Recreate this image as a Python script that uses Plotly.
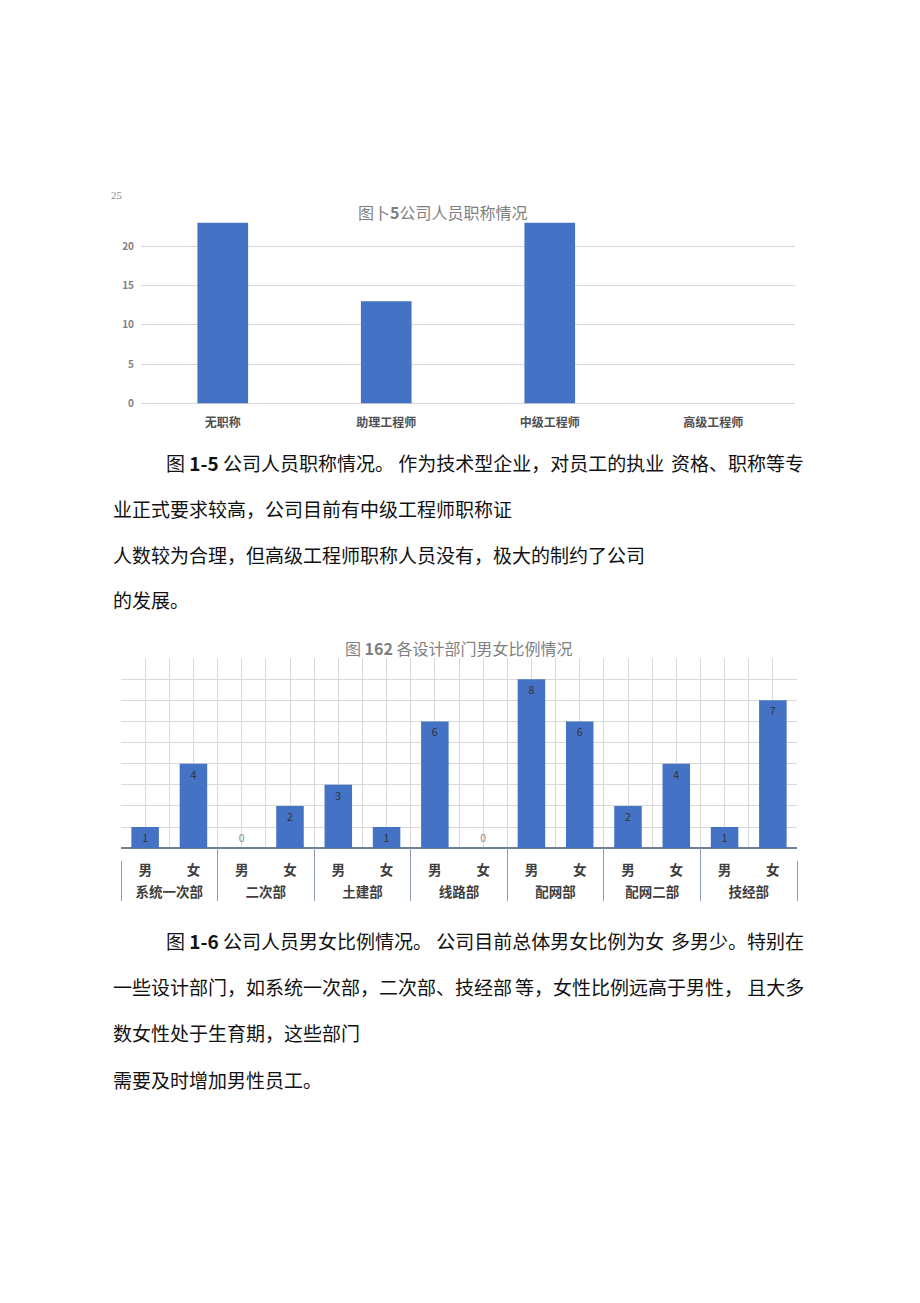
import plotly.graph_objects as go

# ---------------- data ----------------
title_categories = ['无职称', '助理工程师', '中级工程师', '高级工程师']
title_counts = [23, 13, 23, 0]
y1_tick_values = [0, 5, 10, 15, 20, 25]

departments = ['系统一次部', '二次部', '土建部', '线路部', '配网部', '配网二部', '技经部']
genders = ['男', '女']
male_counts = [1, 0, 3, 6, 8, 2, 1]
female_counts = [4, 2, 1, 0, 6, 4, 7]

chart1_title = '图卜<b>5</b>公司人员职称情况'
chart2_title = '图 <b>162</b> 各设计部门男女比例情况'

para1 = [
    ('图 <b>1-5</b> 公司人员职称情况。 作为技术型企业，对员工的执业', '资格、职称等专'),
    ('业正式要求较高，公司目前有中级工程师职称证', None),
    ('人数较为合理，但高级工程师职称人员没有，极大的制约了公司', None),
    ('的发展。', None),
]
para2 = [
    ('图 <b>1-6</b> 公司人员男女比例情况。 公司目前总体男女比例为女', '多男少。特别在'),
    ('一些设计部门，如系统一次部，二次部、技经部', '等，女性比例远高于男性， 且大多'),
    ('数女性处于生育期，这些部门', None),
    ('需要及时增加男性员工。', None),
]

W, H = 920, 1303
FONT = 'Noto Sans CJK SC'
BAR = '#4472C4'
GRID = '#d9d9d9'
AXIS_BLUE = '#6f7f99'
DIVIDER = '#8e9bb0'


def px_x(x):
    return x / W


def px_y(y):
    return 1 - y / H


# chart 2 geometry (pixels)
C2_LEFT, C2_RIGHT = 121, 797
C2_BASE, C2_TOP, C2_AXIS = 852.7, 661.7, 865.0
n_cats = len(departments) * len(genders)
unit_px = (C2_BASE - C2_TOP) / 9.0
y3_low = -(C2_AXIS - C2_BASE) / unit_px

# multicategory arrays
outer = [d for d in departments for _ in genders]
inner = [g for _ in departments for g in genders]
values2 = []
for m, f in zip(male_counts, female_counts):
    values2 += [m, f]
positions2 = ['inside' if v > 0 else 'outside' for v in values2]

fig = go.Figure()

# chart 1
fig.add_trace(go.Bar(
    x=title_categories, y=title_counts, width=0.31,
    marker=dict(color=BAR, line=dict(width=0)),
    xaxis='x', yaxis='y', showlegend=False, hoverinfo='x+y'))

# chart 2 grid host (drawn below the bars)
fig.add_trace(go.Scatter(x=[], y=[], xaxis='x2', yaxis='y2', showlegend=False,
                         hoverinfo='skip'))

# chart 2 bars
fig.add_trace(go.Bar(
    x=[outer, inner], y=values2, width=0.57, text=[str(v) for v in values2],
    textposition=positions2, insidetextanchor='end', textangle=0,
    insidetextfont=dict(family=FONT, size=10.5, color='#333333'),
    outsidetextfont=dict(family=FONT, size=10.5, color='#8c8c8c'),
    cliponaxis=False,
    marker=dict(color=BAR, line=dict(width=0)),
    xaxis='x3', yaxis='y3', showlegend=False))

# band host joining baseline and label dividers
fig.add_trace(go.Scatter(x=[], y=[], xaxis='x4', yaxis='y4', showlegend=False,
                         hoverinfo='skip'))

fig.update_layout(
    width=W, height=H, autosize=False,
    margin=dict(l=0, r=0, t=0, b=0),
    paper_bgcolor='white', plot_bgcolor='rgba(0,0,0,0)',
    font=dict(family=FONT, color='#404040'),
    xaxis=dict(domain=[px_x(141), px_x(795)], anchor='y', type='category',
               showgrid=False, showline=False, zeroline=False, ticks='',
               tickfont=dict(family=FONT, size=12, color='#505050', weight='bold'),
               ticklabelstandoff=10),
    yaxis=dict(domain=[px_y(405.7), px_y(208.2)], anchor='x', range=[0, 25],
               tickvals=y1_tick_values[:-1],
               ticktext=[str(v) for v in y1_tick_values[:-1]],
               showgrid=True, gridcolor=GRID, gridwidth=1,
               zeroline=True, zerolinecolor=GRID, zerolinewidth=1,
               showline=False, ticks='',
               tickfont=dict(family=FONT, size=10, color='#808080', weight='bold'),
               ticklabelstandoff=6),
    # grid of chart 2
    xaxis2=dict(domain=[px_x(C2_LEFT), px_x(C2_RIGHT)], anchor='y2', type='linear',
                range=[-0.5, n_cats - 0.5], tick0=-0.5, dtick=0.5,
                showgrid=True, gridcolor=GRID, gridwidth=1,
                showticklabels=False, ticks='', zeroline=False, showline=False),
    yaxis2=dict(domain=[px_y(C2_BASE), px_y(C2_TOP)], anchor='x2', range=[0, 9],
                dtick=1, showgrid=True, gridcolor=GRID, gridwidth=1,
                zeroline=False, showline=False, showticklabels=False, ticks=''),
    # bars of chart 2
    xaxis3=dict(domain=[px_x(C2_LEFT), px_x(C2_RIGHT)], anchor='y3', type='multicategory',
                showgrid=False, zeroline=False, ticks='', showline=False,
                showdividers=True, dividercolor=DIVIDER, dividerwidth=1,
                tickfont=dict(family=FONT, size=13.5, color='#404040', weight='bold')),
    yaxis3=dict(domain=[px_y(C2_AXIS), px_y(C2_TOP)], anchor='x3', range=[y3_low, 9],
                showgrid=False, showticklabels=False, ticks='', showline=False,
                zeroline=True, zerolinecolor=AXIS_BLUE, zerolinewidth=2),
    # short band of divider lines between baseline and labels
    xaxis4=dict(domain=[px_x(C2_LEFT), px_x(C2_RIGHT)], anchor='y4', type='linear',
                range=[-0.5, n_cats - 0.5], tick0=-0.5, dtick=len(genders),
                showgrid=True, gridcolor=DIVIDER, gridwidth=1,
                showticklabels=False, ticks='', zeroline=False, showline=False),
    yaxis4=dict(domain=[px_y(C2_AXIS + 0.5), px_y(C2_BASE)], anchor='x4', range=[0, 1],
                showgrid=False, showticklabels=False, ticks='', zeroline=False,
                showline=False),
)

annotations = []
# "25" tick label displaced at the top
annotations.append(dict(text=str(y1_tick_values[-1]), xref='paper', yref='y',
                        x=px_x(117), y=y1_tick_values[-1], yshift=12,
                        xanchor='center', yanchor='middle', showarrow=False,
                        font=dict(family='Liberation Serif', size=11, color='#909090')))
# chart titles
annotations.append(dict(text=chart1_title, xref='paper', yref='paper',
                        x=px_x(442), y=px_y(213), xanchor='center', yanchor='middle',
                        showarrow=False, font=dict(family=FONT, size=16, color='#7f7f7f')))
annotations.append(dict(text=chart2_title, xref='paper', yref='paper',
                        x=px_x(459), y=px_y(651), xanchor='center', yanchor='middle',
                        showarrow=False, font=dict(family=FONT, size=16, color='#7f7f7f')))

TEXTFONT = dict(family=FONT, size=19, color='#111111')


def add_para(lines, ys, first_x):
    for i, ((left, right), y) in enumerate(zip(lines, ys)):
        lx = first_x if i == 0 else 111
        annotations.append(dict(text=left, xref='paper', yref='paper', x=px_x(lx),
                                y=px_y(y), xanchor='left', yanchor='middle',
                                showarrow=False, font=TEXTFONT))
        if right:
            annotations.append(dict(text=right, xref='paper', yref='paper', x=px_x(806),
                                    y=px_y(y), xanchor='right', yanchor='middle',
                                    showarrow=False, font=TEXTFONT))


add_para(para1, [465, 511, 557, 603], 164)
add_para(para2, [946, 992, 1038, 1085], 164)

fig.update_layout(annotations=annotations)

fig.write_html('out.html')
